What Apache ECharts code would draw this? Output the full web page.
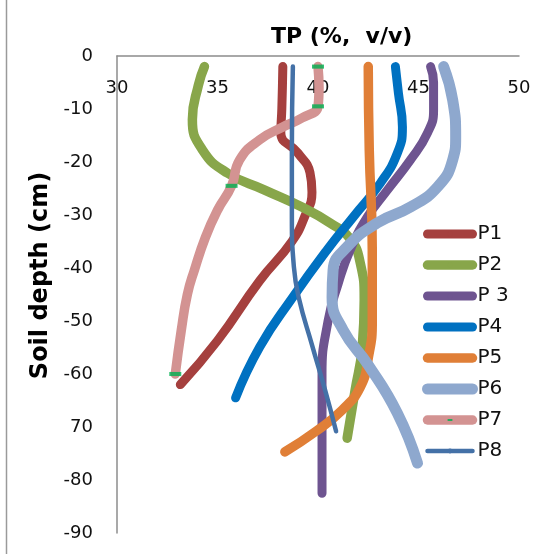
<!DOCTYPE html>
<html>
<head>
<meta charset="utf-8">
<script src="https://cdn.jsdelivr.net/npm/echarts@6/dist/echarts.min.js"></script>
<style>
html,body{margin:0;padding:0;background:#fff;}
#chart{width:539px;height:554px;}
</style>
</head>
<body>
<div id="chart"></div>
<script>
// ---- data: [TP (%, v/v), soil depth (cm)] ----
const seriesNames = ['P1', 'P2', 'P 3', 'P4', 'P5', 'P6', 'P7', 'P8'];

const P1 = [[38.25,-2],[38.2,-10],[38.15,-14.5],[39.0,-18.3],[39.6,-22],[39.7,-25.7],[39.35,-30.2],[38.7,-35],[37.1,-42.4],[35.0,-53.7],[33.15,-62]];
const P2 = [[34.35,-2],[34.05,-5.5],[33.75,-12],[34.25,-17.7],[35.5,-22.1],[37.35,-25.3],[39.2,-28.5],[40.6,-31.5],[41.6,-34.5],[42.1,-39],[42.3,-46],[42.2,-55],[41.85,-63],[41.45,-72.1]];
const P3 = [[45.6,-2],[45.75,-5],[45.75,-10.2],[45.45,-14.5],[44.6,-19.6],[43.45,-25.3],[42.45,-30.4],[41.6,-36.6],[41.0,-43],[40.5,-50],[40.2,-60],[40.2,-72],[40.2,-82.5]];
const P4 = [[43.85,-2],[44.0,-7],[44.2,-13.4],[43.95,-18.3],[43.1,-24],[41.75,-30.4],[40.45,-36.6],[38.75,-45.5],[37.1,-54.9],[35.9,-64.5]];
const P5 = [[42.5,-2],[42.55,-17.7],[42.7,-36.6],[42.7,-50],[42.5,-57],[42.1,-62.5],[41.2,-66.8],[39.9,-70.8],[38.35,-74.7]];
const P6 = [[46.25,-2],[46.7,-8.3],[46.85,-15.3],[46.7,-19.6],[45.95,-24.7],[44.6,-28.5],[42.95,-31.5],[41.45,-36],[40.75,-40.4],[40.7,-45.5],[41.25,-51.7],[42.5,-58.3],[43.95,-67.4],[44.95,-76.8]];
const P7 = [[40.0,-2],[40.05,-6],[40.0,-9.5],[39.2,-11.7],[38.25,-13.4],[37.1,-15.8],[36.1,-19.6],[35.7,-24.5],[35.0,-29.1],[34.4,-34.2],[33.85,-40.4],[33.5,-45],[33.2,-51.7],[32.9,-60]];
const P7markers = [[40.0,-2],[40.0,-9.5],[35.7,-24.5],[32.9,-60]];
const P8 = [[38.75,-2],[38.7,-17.7],[38.7,-30.4],[38.8,-39.8],[39.05,-45.7],[39.7,-54.5],[40.35,-63],[40.9,-70.8]];

const xTickLabels = ['30', '35', '40', '45', '50'];
const yTickLabels = ['0', '-10', '-20', '-30', '-40', '-50', '-60', '70', '-80', '-90'];

const seriesData = [P1, P2, P3, P4, P5, P6, P7, P8];
const colors = ['#A5403E', '#88A64A', '#6E5490', '#0071C1', '#E07F37', '#8EA8CE', '#D39392', '#4471A7'];
const widths = [9, 9.5, 9, 9, 9.5, 11, 9.5, 4.5];

const dashPath = 'path://M0,0 M10,10 M0,3.3 L10,3.3 L10,6.7 L0,6.7 Z';
const FONT = 'DejaVu Sans';

const series = seriesData.map((d, i) => {
  const s = {
    name: seriesNames[i],
    type: 'line',
    data: d,
    smooth: 0.5,
    showSymbol: false,
    symbol: 'circle',
    lineStyle: { color: colors[i], width: widths[i], cap: 'round', join: 'round' },
    itemStyle: { color: colors[i] },
    emphasis: { disabled: true },
    z: 2 + i
  };
  if (i === 6) {
    s.symbol = dashPath;
    s.itemStyle = { color: '#00B050' };
  }
  return s;
});
series.push({
  name: 'P7 markers',
  type: 'scatter',
  data: P7markers,
  symbol: dashPath,
  symbolSize: 12,
  itemStyle: { color: '#00B050' },
  emphasis: { disabled: true },
  z: 20
});

const chart = echarts.init(document.getElementById('chart'), null, { renderer: 'canvas' });
chart.setOption({
  animation: false,
  backgroundColor: '#fff',
  title: {
    text: 'TP (%,  v/v)',
    left: 271,
    top: 26,
    padding: 0,
    textStyle: { fontFamily: FONT, fontWeight: 'bold', fontSize: 22, color: '#000' }
  },
  grid: { left: 117, top: 56, right: 20, bottom: 21, containLabel: false },
  xAxis: {
    type: 'value',
    position: 'top',
    min: 30, max: 50, interval: 5,
    axisLine: { show: true, onZero: false, lineStyle: { color: '#8c8c8c', width: 1.5 } },
    axisTick: { show: false },
    splitLine: { show: false },
    axisLabel: {
      inside: true, margin: 23,
      fontFamily: FONT, fontSize: 18, color: '#111',
      formatter: v => xTickLabels[Math.round((v - 30) / 5)]
    }
  },
  yAxis: {
    type: 'value',
    min: -90, max: 0, interval: 10,
    name: 'Soil depth (cm)',
    nameLocation: 'middle',
    nameRotate: 90,
    nameGap: 62,
    nameTextStyle: { fontFamily: FONT, fontWeight: 'bold', fontSize: 24, color: '#000', padding: [0, 0, 0, 38] },
    axisLine: { show: true, onZero: false, lineStyle: { color: '#8c8c8c', width: 1.5 } },
    axisTick: { show: false },
    splitLine: { show: false },
    axisLabel: {
      margin: 24,
      fontFamily: FONT, fontSize: 18, color: '#111',
      formatter: v => yTickLabels[Math.round(-v / 10)]
    }
  },
  legend: {
    data: seriesNames,
    orient: 'vertical',
    left: 422,
    top: 224,
    itemWidth: 45,
    itemHeight: 6,
    itemGap: 11,
    padding: 0,
    selectedMode: false,
    lineStyle: { width: 'inherit', cap: 'round' },
    textStyle: { fontFamily: FONT, fontSize: 20, color: '#111' }
  },
  graphic: [{
    type: 'line',
    shape: { x1: 6.5, y1: 0, x2: 6.5, y2: 554 },
    style: { stroke: '#9a9a9a', lineWidth: 1.5 },
    silent: true
  }],
  series: series
});
</script>
</body>
</html>
